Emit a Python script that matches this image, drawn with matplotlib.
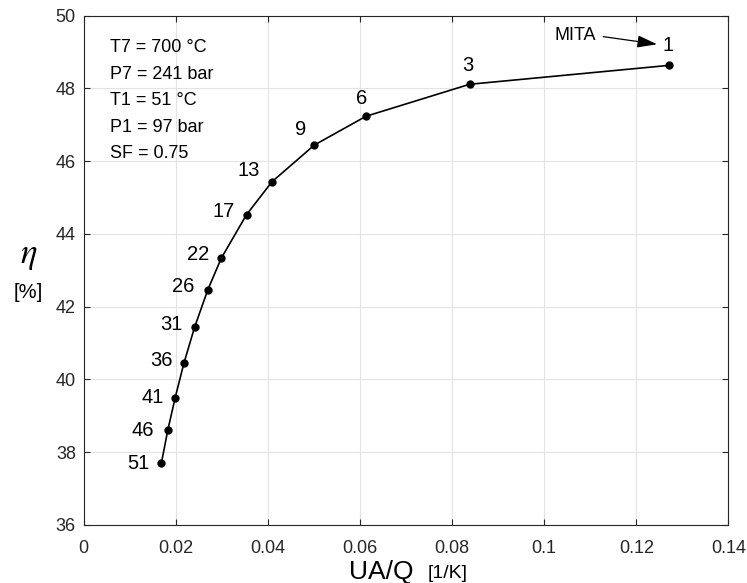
import matplotlib
matplotlib.use("Agg")
import matplotlib.pyplot as plt

# Helvetica benzeri yazi tipi
plt.rcParams["font.family"] = ["Liberation Sans", "DejaVu Sans"]
plt.rcParams["font.size"] = 13

# --- Veri ---
ua_q = [0.1271, 0.0838, 0.0613, 0.0501, 0.0409, 0.0354, 0.0299,
        0.0270, 0.0241, 0.0218, 0.0199, 0.0183, 0.0169]
eta = [48.63, 48.11, 47.23, 46.44, 45.43, 44.53, 43.33,
       42.47, 41.43, 40.45, 39.50, 38.61, 37.70]
point_labels = ["1", "3", "6", "9", "13", "17", "22",
                "26", "31", "36", "41", "46", "51"]
x_ticks = [0, 0.02, 0.04, 0.06, 0.08, 0.1, 0.12, 0.14]
x_tick_labels = ["0", "0.02", "0.04", "0.06", "0.08", "0.1", "0.12", "0.14"]
y_ticks = [36, 38, 40, 42, 44, 46, 48, 50]
conditions = ["T7 = 700 °C", "P7 = 241 bar", "T1 = 51 °C",
              "P1 = 97 bar", "SF = 0.75"]

# etiketlerin noktaya gore kaymasi (punto)
label_offsets = [(-1, 14), (-1.5, 13.5), (-3, 13), (-9.5, 11), (-16.5, 8),
                 (-16.5, 2.5), (-16.5, 3), (-17.5, 2), (-16.5, 2), (-16.5, 1.5),
                 (-16, 0), (-18, 0), (-16.5, 0)]

AX_COLOR = "#262626"

fig = plt.figure(figsize=(7.47, 5.83), dpi=100)
ax = fig.add_axes([0.1118, 0.0995, 0.8634, 0.8739])

ax.plot(ua_q, eta, color="black", linewidth=1.2, marker="o",
        markersize=5, zorder=3)

for x, y, lab, off in zip(ua_q, eta, point_labels, label_offsets):
    ax.annotate(lab, (x, y), xytext=off, textcoords="offset points",
                ha="center", va="center", fontsize=14.5, color="black")

# MITA oku
ax.annotate("", xy=(0.1245, 49.21), xytext=(0.1128, 49.42),
            arrowprops=dict(arrowstyle="-|>,head_length=0.55,head_width=0.17",
                            color="black", lw=0.9,
                            mutation_scale=22, shrinkA=0, shrinkB=0))
ax.text(0.1067, 49.44, "MITA", ha="center", va="center", fontsize=13)

# isletme kosullari
ax.text(0.041, 0.953, "\n".join(conditions), transform=ax.transAxes,
        ha="left", va="top", fontsize=13, linespacing=1.72)

ax.set_xlim(0, 0.14)
ax.set_ylim(36, 50)
ax.set_xticks(x_ticks)
ax.set_xticklabels(x_tick_labels)
ax.set_yticks(y_ticks)

ax.grid(True, color="#e3e3e3", linewidth=0.8)
ax.set_axisbelow(True)
for s in ax.spines.values():
    s.set_color(AX_COLOR)
    s.set_linewidth(0.8)
ax.tick_params(axis="both", direction="in", length=4.5, width=0.8,
               color=AX_COLOR, labelcolor=AX_COLOR, top=True, right=True,
               labelsize=13)
ax.tick_params(axis="x", pad=10.5)
ax.tick_params(axis="y", pad=5.5)

# eksen etiketleri (MATLAB ciktisindaki gibi iki parca)
fig.text(29 / 747, 1 - 255 / 583, r"$\eta$", ha="center", va="center",
         fontsize=25, math_fontfamily="stix")
fig.text(28 / 747, 1 - 292 / 583, "[%]", ha="center", va="center",
         fontsize=14.5)
fig.text(381 / 747, 1 - 579 / 583, "UA/Q", ha="center", va="baseline",
         fontsize=19)
fig.text(448 / 747, 1 - 578 / 583, "[1/K]", ha="center", va="baseline",
         fontsize=14)

fig.savefig("out.png", dpi=100)
